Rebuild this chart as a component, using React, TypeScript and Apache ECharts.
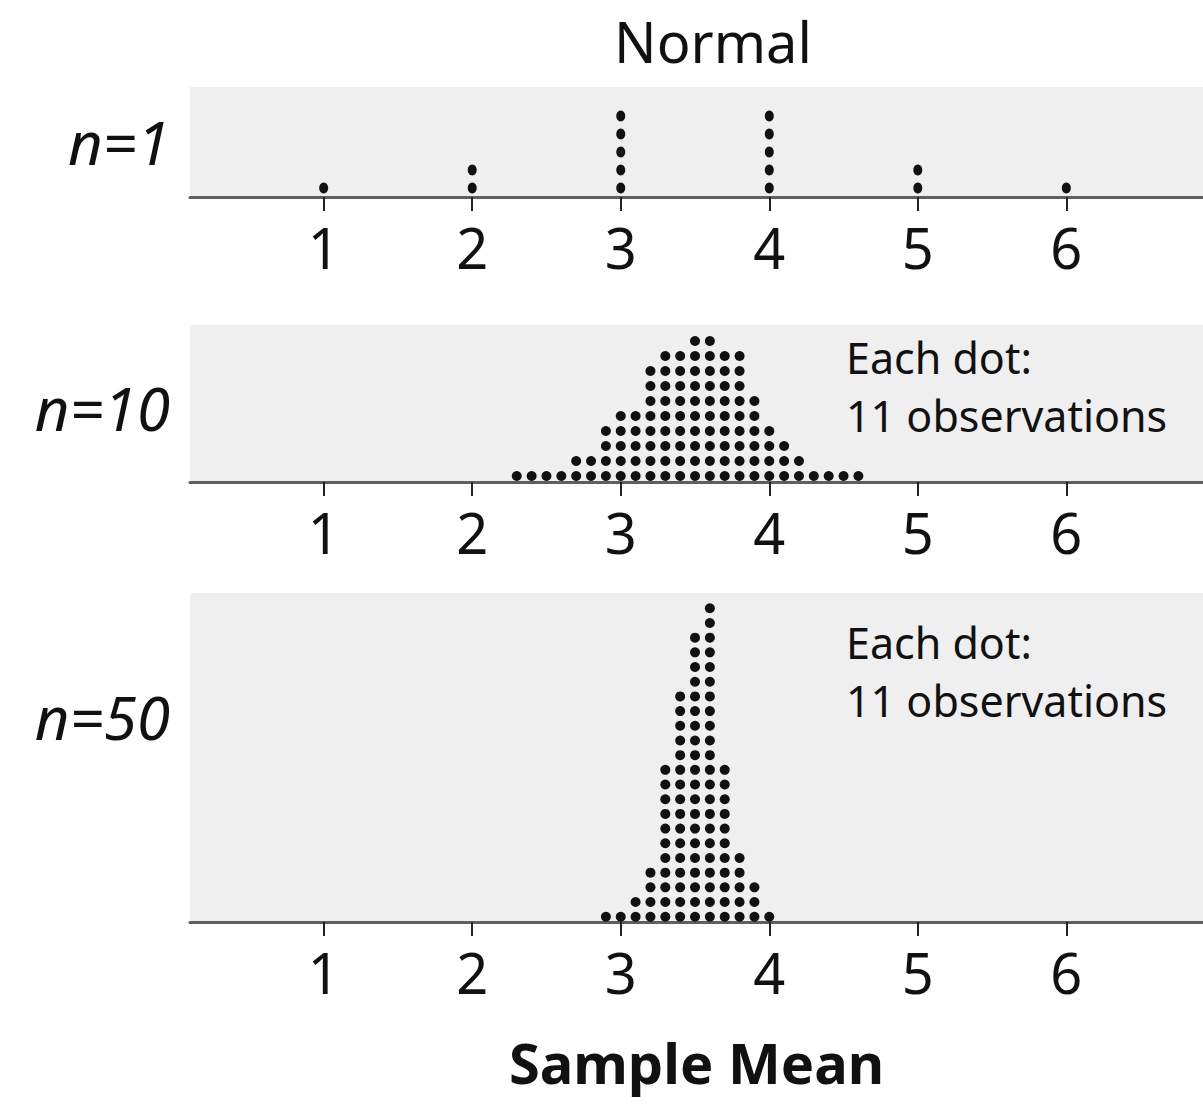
import React, { useEffect, useRef } from "react";
import * as echarts from "echarts";

// Axis ticks shared by all three panels
const TICK_VALUES = [1, 2, 3, 4, 5, 6];

// n = 1: each value of a single die-like draw
const N1_MEANS = [1, 2, 3, 4, 5, 6];
const N1_COUNTS = [1, 2, 5, 5, 2, 1];

// n = 10: sample means, binned at 0.1
const N10_MEANS = [
  2.3, 2.4, 2.5, 2.6, 2.7, 2.8, 2.9, 3.0, 3.1, 3.2, 3.3, 3.4,
  3.5, 3.6, 3.7, 3.8, 3.9, 4.0, 4.1, 4.2, 4.3, 4.4, 4.5, 4.6,
];
const N10_COUNTS = [1, 1, 1, 1, 2, 2, 4, 5, 5, 8, 9, 9, 10, 10, 9, 9, 6, 4, 3, 2, 1, 1, 1, 1];

// n = 50: sample means, binned at 0.1
const N50_MEANS = [2.9, 3.0, 3.1, 3.2, 3.3, 3.4, 3.5, 3.6, 3.7, 3.8, 3.9, 4.0];
const N50_COUNTS = [1, 1, 2, 4, 11, 16, 20, 22, 11, 5, 3, 1];

const PANEL_LABELS = ["n=1", "n=10", "n=50"];
const NOTE_TEXT = "Each dot:\n11 observations";
const TITLE = "Normal";
const X_NAME = "Sample Mean";

const FONT = "'Noto Sans', 'DejaVu Sans', sans-serif";

// Stack dots vertically: one point per observation, k = 1..count
function stackDots(means: number[], counts: number[]): number[][] {
  const pts: number[][] = [];
  means.forEach((m, i) => {
    for (let k = 1; k <= counts[i]; k++) pts.push([m, k]);
  });
  return pts;
}

const PANELS = [
  { top: 87, height: 110, yMin: 0.5, yMax: 6.61, size: [9, 11], data: stackDots(N1_MEANS, N1_COUNTS) },
  { top: 325, height: 157, yMin: 0.6, yMax: 11.07, size: [10, 10], data: stackDots(N10_MEANS, N10_COUNTS) },
  { top: 593, height: 329, yMin: 0.64, yMax: 23.04, size: [10, 10], data: stackDots(N50_MEANS, N50_COUNTS) },
];

export default function App() {
  const ref = useRef<HTMLDivElement>(null);

  useEffect(() => {
    if (!ref.current) return;
    const chart = echarts.init(ref.current, undefined, { renderer: "svg" });

    const grids = PANELS.map((p) => ({
      left: 190,
      right: 0,
      top: p.top,
      height: p.height,
      show: true,
      backgroundColor: "#efefef",
      borderWidth: 0,
    }));

    const xAxes = PANELS.map((_, i) => ({
      type: "value",
      gridIndex: i,
      min: 0.1,
      max: 6.92,
      splitLine: { show: false },
      axisLine: { show: true, onZero: false, lineStyle: { color: "#5f5f5f", width: 3 } },
      axisTick: {
        show: true,
        customValues: TICK_VALUES,
        length: 14,
        lineStyle: { color: "#222", width: 2 },
      },
      axisLabel: {
        show: true,
        customValues: TICK_VALUES,
        margin: 22,
        fontSize: 56,
        color: "#111",
        fontFamily: FONT,
      },
      ...(i === 2
        ? {
            name: X_NAME,
            nameLocation: "middle",
            nameGap: 112,
            nameTextStyle: { fontSize: 56, fontWeight: "bold", color: "#111", fontFamily: FONT },
          }
        : {}),
    }));

    const yAxes = PANELS.map((p, i) => ({
      type: "value",
      gridIndex: i,
      min: p.yMin,
      max: p.yMax,
      show: false,
      splitLine: { show: false },
    }));

    const series = PANELS.map((p, i) => ({
      type: "scatter",
      xAxisIndex: i,
      yAxisIndex: i,
      data: p.data,
      symbol: "circle",
      symbolSize: p.size,
      itemStyle: { color: "#111", opacity: 1 },
      z: 5,
    }));

    const labelYs = [142, 408, 717];
    const graphics: any[] = PANEL_LABELS.map((t, i) => ({
      type: "text",
      x: 170,
      y: labelYs[i],
      style: {
        text: t,
        fontSize: 60,
        fontStyle: "italic",
        fill: "#111",
        fontFamily: FONT,
        textAlign: "right",
        textVerticalAlign: "middle",
      },
    }));
    [386, 671].forEach((cy) => {
      graphics.push({
        type: "text",
        x: 846,
        y: cy,
        z: 10,
        style: {
          text: NOTE_TEXT,
          fontSize: 43,
          lineHeight: 58,
          fill: "#111",
          fontFamily: FONT,
          textAlign: "left",
          textVerticalAlign: "middle",
        },
      });
    });

    chart.setOption({
      animation: false,
      backgroundColor: "#ffffff",
      title: {
        text: TITLE,
        left: 708,
        top: 8,
        textAlign: "center",
        textStyle: { fontSize: 56, fontWeight: "normal", color: "#111", fontFamily: FONT },
      },
      grid: grids,
      xAxis: xAxes,
      yAxis: yAxes,
      series,
      graphic: graphics,
    });

    return () => chart.dispose();
  }, []);

  return (
    <div
      ref={ref}
      style={{ position: "absolute", left: 0, top: 0, width: 1203, height: 1111, background: "#fff" }}
    />
  );
}
